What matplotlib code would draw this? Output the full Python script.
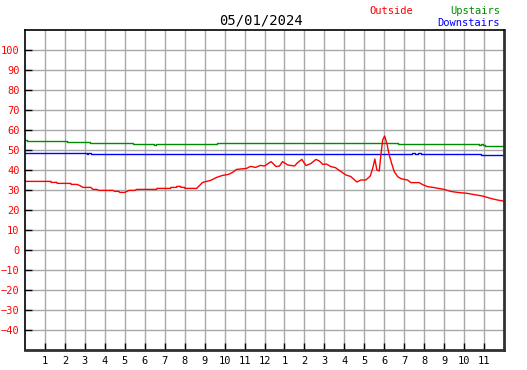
import matplotlib.pyplot as plt

# Outside temperature (red), hours since midnight
out_hours = [0.0, 0.05, 1.3, 1.31, 1.6, 1.61, 2.3, 2.31, 2.6, 2.75, 2.9, 3.3, 3.4, 3.6, 3.7,
             4.4, 4.5, 4.7, 4.75, 5.0, 5.2, 5.5, 5.6, 6.2, 6.6, 6.61, 7.3, 7.31, 7.6, 7.61,
             7.8, 7.81, 8.0, 8.01, 8.6, 8.75, 8.9, 9.1, 9.3, 9.6, 9.9, 10.2, 10.4, 10.6,
             11.1, 11.3, 11.55, 11.8, 12.0, 12.33, 12.58, 12.75, 12.9, 13.17, 13.5, 13.67,
             13.87, 14.08, 14.33, 14.58, 14.75, 14.92, 15.1, 15.33, 15.55, 15.83, 16.08,
             16.33, 16.63, 16.83, 17.08, 17.3, 17.42, 17.53, 17.63, 17.75, 17.83, 17.92,
             18.02, 18.13, 18.25, 18.37, 18.5, 18.67, 18.83, 19.0, 19.17, 19.33, 19.75,
             19.92, 20.17, 20.5, 21.0, 21.33, 21.67, 22.17, 22.5, 22.92, 23.33, 23.67, 23.95]
out_temp = [34.8, 34.3, 34.3, 33.8, 33.8, 33.3, 33.3, 32.8, 32.8, 32.2, 31.3, 31.3, 30.3,
            30.3, 29.8, 29.8, 29.3, 29.3, 28.8, 28.8, 29.8, 29.8, 30.3, 30.3, 30.3, 30.8,
            30.8, 31.3, 31.3, 31.8, 31.8, 31.3, 31.3, 30.8, 30.8, 32.3, 33.8, 34.3, 34.8,
            36.3, 37.3, 37.8, 38.8, 40.3, 40.8, 41.8, 41.3, 42.3, 42.0, 44.2, 41.7, 42.0,
            44.2, 42.5, 42.0, 43.8, 45.3, 42.2, 43.3, 45.3, 44.5, 42.8, 43.0, 41.7, 41.2,
            39.2, 37.5, 36.7, 34.0, 35.0, 35.0, 37.0, 40.8, 45.5, 40.0, 39.5, 47.5, 55.0,
            57.0, 53.3, 47.5, 43.3, 39.2, 36.7, 35.7, 35.3, 35.0, 33.7, 33.7, 32.7, 31.7,
            31.2, 30.3, 29.3, 28.8, 28.3, 27.7, 27.0, 25.8, 25.0, 24.5]

# Upstairs (green), step values
up_hours = [0.0, 0.1, 2.08, 3.25, 5.4, 6.45, 6.55, 8.5, 8.6, 9.6, 18.67, 22.75, 22.85,
            22.95, 23.05, 23.95]
up_temp = [55.0, 54.5, 53.8, 53.3, 52.8, 52.5, 52.8, 53.0, 52.8, 53.3, 52.8, 52.5, 52.8,
           52.5, 52.2, 52.2]

# Downstairs (blue), step values
down_hours = [0.0, 3.1, 3.15, 3.3, 19.4, 19.55, 19.7, 19.85, 22.83, 23.95]
down_temp = [48.3, 48.0, 48.3, 47.8, 48.3, 48.0, 48.3, 48.0, 47.3, 47.3]

hour_labels = ['1', '2', '3', '4', '5', '6', '7', '8', '9', '10', '11', '12',
               '1', '2', '3', '4', '5', '6', '7', '8', '9', '10', '11']

plt.rcParams['font.family'] = 'DejaVu Sans Mono'
fig = plt.figure(figsize=(5.27, 3.70), dpi=100)
ax = fig.add_axes([25 / 527, 20 / 370, 479 / 527, 320 / 370])

ax.plot(down_hours, down_temp, color='#0000ff', lw=1.0, drawstyle='steps-post')
ax.plot(up_hours, up_temp, color='#008c00', lw=1.0, drawstyle='steps-post')
ax.plot(out_hours, out_temp, color='#ff0000', lw=1.0)

ax.set_xlim(0, 24)
ax.set_ylim(-50, 110)
ax.set_yticks(range(-40, 101, 10))
ax.set_xticks(range(1, 24))
ax.set_xticklabels(hour_labels)
ax.tick_params(axis='both', direction='in', length=5, width=1, color='black',
               labelsize=7.5, pad=4)
ax.tick_params(axis='y', labelcolor='#ff0000')
ax.tick_params(axis='x', labelcolor='black')
ax.grid(True, color='#a8a8a8', lw=1)
ax.set_axisbelow(True)

for side in ['left', 'top']:
    ax.spines[side].set_linewidth(1.2)
for side in ['right', 'bottom']:
    ax.spines[side].set_linewidth(2.0)
    ax.spines[side].set_color('#303030')

fig.text(261 / 527, 1 - 20 / 370, '05/01/2024', ha='center', va='center', fontsize=10)
fig.text(369 / 527, 1 - 11 / 370, 'Outside', ha='left', va='center', fontsize=7.5,
         color='#ff0000')
fig.text(500 / 527, 1 - 11 / 370, 'Upstairs', ha='right', va='center', fontsize=7.5,
         color='#008c00')
fig.text(500 / 527, 1 - 23 / 370, 'Downstairs', ha='right', va='center', fontsize=7.5,
         color='#0000ff')

fig.savefig('out.png', dpi=100)
